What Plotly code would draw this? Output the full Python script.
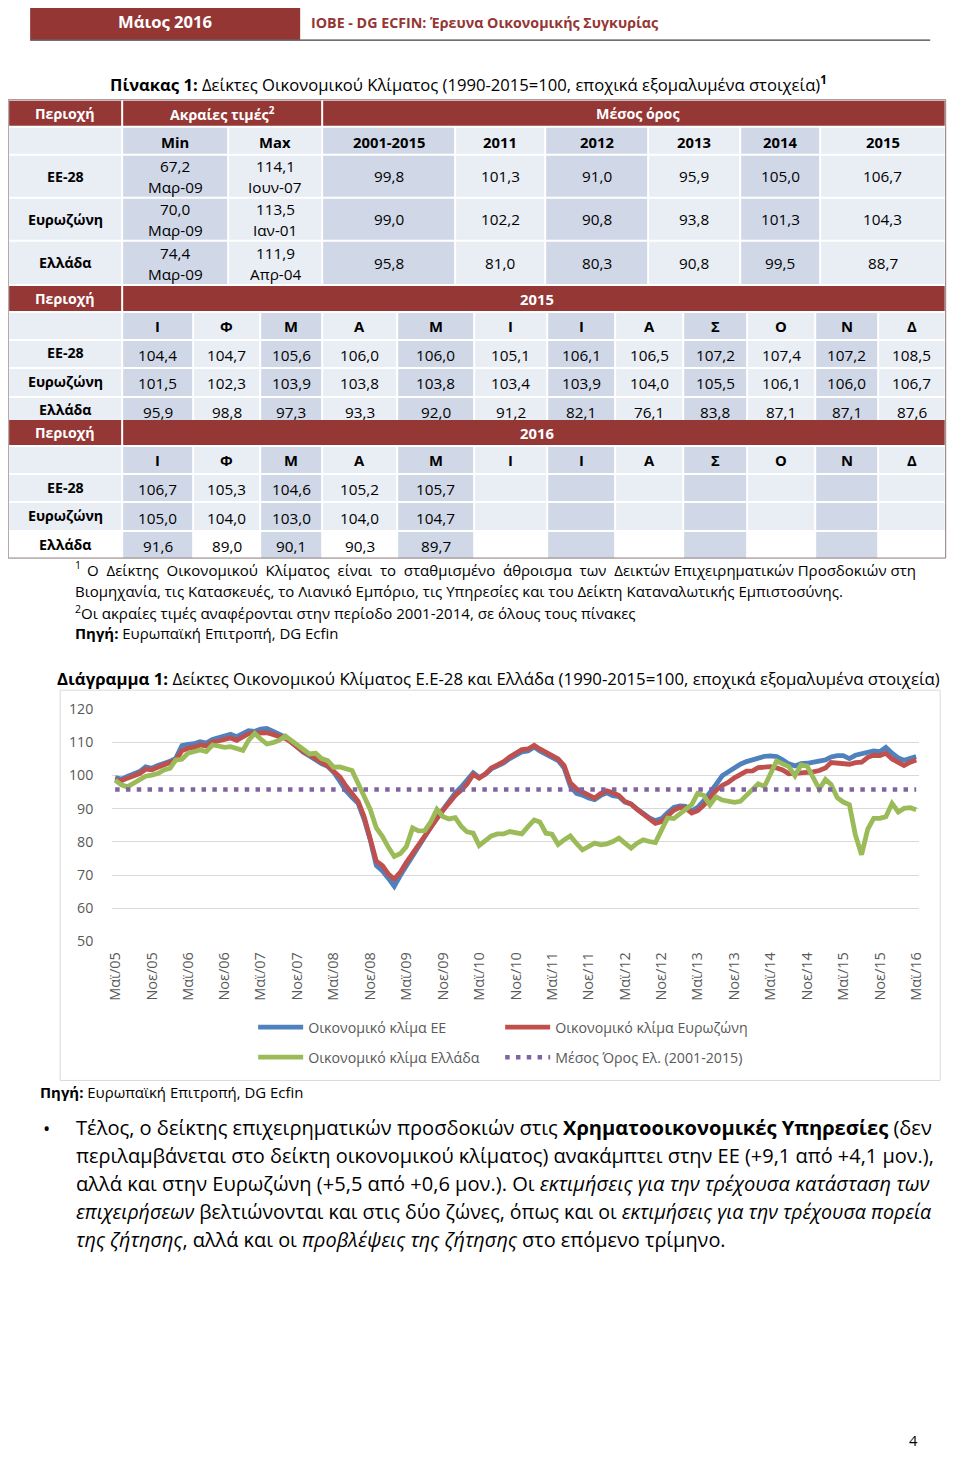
import plotly.graph_objects as go
import pandas as pd

# ---------------- data ----------------
regions = ["ΕΕ-28", "Ευρωζώνη", "Ελλάδα"]
ext_min = ["67,2", "70,0", "74,4"]
ext_min_date = ["Μαρ-09", "Μαρ-09", "Μαρ-09"]
ext_max = ["114,1", "113,5", "111,9"]
ext_max_date = ["Ιουν-07", "Ιαν-01", "Απρ-04"]
avg_periods = ["2001-2015", "2011", "2012", "2013", "2014", "2015"]
avg_eu = [99.8, 101.3, 91.0, 95.9, 105.0, 106.7]
avg_ez = [99.0, 102.2, 90.8, 93.8, 101.3, 104.3]
avg_gr = [95.8, 81.0, 80.3, 90.8, 99.5, 88.7]
month_letters = ["Ι", "Φ", "Μ", "Α", "Μ", "Ι", "Ι", "Α", "Σ", "Ο", "Ν", "Δ"]

eu_2015 = [104.4, 104.7, 105.6, 106.0, 106.0, 105.1, 106.1, 106.5, 107.2, 107.4, 107.2, 108.5]
ez_2015 = [101.5, 102.3, 103.9, 103.8, 103.8, 103.4, 103.9, 104.0, 105.5, 106.1, 106.0, 106.7]
gr_2015 = [95.9, 98.8, 97.3, 93.3, 92.0, 91.2, 82.1, 76.1, 83.8, 87.1, 87.1, 87.6]
eu_2016 = [106.7, 105.3, 104.6, 105.2, 105.7]
ez_2016 = [105.0, 104.0, 103.0, 104.0, 104.7]
gr_2016 = [91.6, 89.0, 90.1, 90.3, 89.7]

# monthly values May 2005 - Dec 2014
eu_2005_2014 = [99.4, 98.9, 99.7, 100.3, 101.2, 102.6, 102.2, 103.0, 103.6, 104.3,
                105.2, 109.0, 109.4, 109.6, 110.2, 109.8, 110.9, 111.3, 111.8, 112.4,
                111.7, 112.5, 113.5, 113.3, 114.0, 114.2, 113.3, 112.7, 111.6, 110.1,
                108.3, 107.0, 105.9, 104.6, 103.6, 102.8, 101.0, 98.3, 95.5, 93.4,
                91.6, 86.8, 80.5, 72.9, 71.2, 68.9, 66.6, 69.9, 72.9, 75.7,
                78.4, 82.0, 84.5, 87.2, 89.9, 92.6, 94.7, 96.6, 98.6, 100.8,
                99.4, 100.4, 102.0, 102.9, 103.8, 105.1, 106.2, 107.1, 107.4, 108.6,
                107.4, 106.4, 105.6, 104.5, 102.3, 96.8, 94.6, 94.1, 93.2, 92.7,
                94.0, 94.8, 93.9, 93.6, 92.0, 91.4, 89.9, 88.5, 87.2, 86.4,
                87.0, 88.8, 90.4, 90.8, 90.7, 89.3, 90.4, 92.4, 94.6, 97.3,
                99.9, 101.1, 102.4, 103.4, 104.2, 104.7, 105.2, 105.8, 105.9, 105.7,
                104.7, 103.5, 102.9, 103.6, 103.7, 104.1]
ez_2005_2014 = [98.8, 98.4, 99.2, 99.8, 100.6, 101.9, 101.7, 102.5, 103.2, 103.8,
                104.6, 107.5, 108.2, 108.5, 109.2, 108.9, 110.1, 110.4, 111.0, 111.3,
                110.6, 111.5, 112.6, 112.8, 113.0, 112.9, 112.4, 111.9, 111.2, 110.0,
                108.4, 107.2, 106.2, 105.0, 103.9, 102.9, 101.3, 99.6, 96.9, 94.3,
                92.2, 87.6, 81.4, 74.2, 72.8, 70.2, 68.8, 70.9, 73.8, 76.5,
                79.0, 82.3, 84.6, 87.0, 89.5, 92.0, 94.0, 95.6, 97.4, 100.3,
                99.2, 100.5, 102.3, 103.2, 104.2, 105.6, 106.8, 107.8, 108.0, 109.1,
                108.0, 107.0, 106.2, 105.0, 103.0, 97.8, 96.0, 95.2, 94.2, 93.2,
                94.6, 95.4, 94.8, 94.0, 92.2, 91.4, 89.8, 88.3, 86.8, 85.6,
                86.1, 88.0, 89.5, 90.4, 90.2, 88.7, 89.4, 91.1, 93.3, 95.5,
                97.0, 97.9, 99.3, 100.2, 101.3, 101.4, 102.4, 102.5, 102.7, 102.3,
                101.7, 100.5, 100.6, 100.6, 100.7, 101.1]
gr_2005_2014 = [98.6, 97.2, 96.6, 97.8, 99.0, 99.8, 100.1, 100.6, 101.7, 102.2,
                104.7, 104.9, 106.7, 107.2, 107.7, 107.2, 109.2, 108.9, 108.5, 108.7,
                108.3, 107.6, 110.6, 112.7, 111.0, 109.5, 109.9, 110.6, 111.9, 110.6,
                109.2, 107.7, 106.5, 106.7, 105.1, 104.5, 102.5, 102.6, 102.2, 101.5,
                97.6, 93.8, 89.7, 84.2, 81.6, 78.2, 75.6, 76.5, 78.6, 84.2,
                83.3, 83.4, 86.1, 89.8, 87.6, 86.9, 87.3, 84.6, 83.0, 82.6,
                78.9, 80.4, 81.8, 82.4, 82.4, 83.1, 82.7, 82.4, 84.6, 86.6,
                86.0, 82.6, 82.3, 79.2, 80.6, 81.8, 79.5, 77.6, 78.6, 79.6,
                79.1, 79.4, 80.1, 81.1, 79.6, 78.1, 79.6, 80.6, 80.1, 79.8,
                83.6, 87.2, 87.0, 88.3, 89.6, 91.2, 94.6, 94.0, 91.1, 93.6,
                92.6, 92.1, 91.9, 92.2, 94.1, 96.2, 97.5, 96.7, 100.6, 104.4,
                103.5, 102.7, 99.9, 103.2, 102.8, 99.2]

gr_mean_2001_2015 = 95.8
tick_labels = ["Μαϊ/05", "Νοε/05", "Μαϊ/06", "Νοε/06", "Μαϊ/07", "Νοε/07", "Μαϊ/08", "Νοε/08",
               "Μαϊ/09", "Νοε/09", "Μαϊ/10", "Νοε/10", "Μαϊ/11", "Νοε/11", "Μαϊ/12", "Νοε/12",
               "Μαϊ/13", "Νοε/13", "Μαϊ/14", "Νοε/14", "Μαϊ/15", "Νοε/15", "Μαϊ/16"]
series_names = ["Οικονομικό κλίμα ΕΕ", "Οικονομικό κλίμα Ευρωζώνη",
                "Οικονομικό κλίμα Ελλάδα", "Μέσος Όρος Ελ. (2001-2015)"]

eu = eu_2005_2014 + eu_2015 + eu_2016
ez = ez_2005_2014 + ez_2015 + ez_2016
gr = gr_2005_2014 + gr_2015 + gr_2016
dates = pd.date_range("2005-05-01", periods=len(eu), freq="MS")

# ---------------- page geometry helpers ----------------
# the figure is shown slightly reduced and offset on the final page
FW, FH = 944, 1449
S = 0.9862
AX, AY = 14.85, 18.3


def X(x):
    return ((x - AX) / S) / FW


def Y(y):
    return 1 - ((y - AY) / S) / FH


def fs(v):
    return round(v / S, 2)


FONT = "Open Sans, Noto Sans, DejaVu Sans, sans-serif"
RED = "#953735"
DARK = "#D0D8E8"
LIGHT = "#E9EDF4"
GRAY = "#595959"

shapes = []
annots = []


def rect(x0, y0, x1, y1, fill, line_color="rgba(0,0,0,0)", lw=0, layer="below"):
    shapes.append(dict(type="rect", xref="paper", yref="paper",
                       x0=X(x0), x1=X(x1), y0=Y(y1), y1=Y(y0),
                       fillcolor=fill, line=dict(color=line_color, width=lw), layer=layer))


def line(x0, y0, x1, y1, color, w):
    shapes.append(dict(type="line", xref="paper", yref="paper",
                       x0=X(x0), x1=X(x1), y0=Y(y0), y1=Y(y1),
                       line=dict(color=color, width=w), layer="below"))


def text(x, y, s, size=14, color="#000000", anchor="center", bold=False):
    if bold:
        s = "<b>" + s + "</b>"
    annots.append(dict(xref="paper", yref="paper", x=X(x), y=Y(y), text=s,
                       showarrow=False, xanchor=anchor, yanchor="middle",
                       borderpad=0, font=dict(size=fs(size), color=color, family=FONT)))


def fmt(v):
    return f"{v:.1f}".replace(".", ",")


# ---------------- header ----------------
rect(30, 3, 300, 40, "#943634")
line(30, 40.5, 930, 40.5, "#404040", 1.2)
text(165, 22, "Μάιος 2016", 16.4, "#FFFFFF", bold=True)
text(310, 23, "IOBE - DG ECFIN: Έρευνα Οικονομικής Συγκυρίας", 14.05, "#943634", "left", bold=True)

# ---------------- table ----------------
text(109, 84, "<b>Πίνακας 1:</b> Δείκτες Οικονομικού Κλίματος (1990-2015=100, εποχικά εξομαλυμένα στοιχεία)<sup><b>1</b></sup>",
     16.4, "#000000", "left")

TL, TR = 8, 945.5
c1 = [TL, 122, 228, 322, 455, 545, 648, 740, 820, TR]
c2 = [TL, 122, 193, 260, 322, 397, 474, 547, 615, 683, 747, 815, 878, TR]
G = 1  # half white gap
LABX = 65
LBL = 14.0   # bold labels
NUM = 15.1   # numbers


def cell(x0, y0, x1, y1, fill):
    rect(x0 + G, y0 + G, x1 - G, y1 - G, fill)


def band(j, last=False):
    if j == 0:
        return "#FFFFFF" if last else LIGHT
    if j % 2 == 1:
        return DARK
    return "#FFFFFF" if last else LIGHT


# block 1 red header
cell(TL, 100, 122, 127, RED)
cell(122, 100, 322, 127, RED)
cell(322, 100, TR, 127, RED)
text(LABX, 114, "Περιοχή", LBL, "#FFFFFF", bold=True)
text(222, 114, "<b>Ακραίες τιμές<sup>2</sup></b>", LBL, "#FFFFFF")
text(637, 114, "Μέσος όρος", LBL, "#FFFFFF", bold=True)

# block 1 sub header
hdr1 = ["", "Min", "Max"] + avg_periods
for j in range(9):
    cell(c1[j], 127, c1[j + 1], 155, band(j))
    if hdr1[j]:
        text((c1[j] + c1[j + 1]) / 2, 142, hdr1[j], LBL + 0.6, bold=True)

rows1 = [(155, 198), (198, 241), (241, 285)]
avgs = [avg_eu, avg_ez, avg_gr]
for i, (y0, y1) in enumerate(rows1):
    for j in range(9):
        cell(c1[j], y0, c1[j + 1], y1, band(j))
    yc = (y0 + y1) / 2
    text(LABX, yc, regions[i], LBL, bold=True)
    text(175, yc - 10, ext_min[i], NUM)
    text(175, yc + 11, ext_min_date[i], NUM)
    text(275, yc - 10, ext_max[i], NUM)
    text(275, yc + 11, ext_max_date[i], NUM)
    for k in range(6):
        text((c1[k + 3] + c1[k + 4]) / 2, yc, fmt(avgs[i][k]), NUM)

# blocks 2 and 3
monthly = [([eu_2015, ez_2015, gr_2015], "2015", 285),
           ([eu_2016, ez_2016, gr_2016], "2016", 419)]
for b, (vals, year, top) in enumerate(monthly):
    cell(TL, top, 122, top + 27, RED)
    cell(122, top, TR, top + 27, RED)
    text(LABX, top + 14, "Περιοχή", LBL, "#FFFFFF", bold=True)
    text(537, top + 14, year, LBL + 0.6, "#FFFFFF", bold=True)
    ly0, ly1 = top + 27, top + 55
    for j in range(13):
        cell(c2[j], ly0, c2[j + 1], ly1, band(j))
        if j > 0:
            text((c2[j] + c2[j + 1]) / 2, (ly0 + ly1) / 2, month_letters[j - 1], LBL + 0.6, bold=True)
    hs = [(ly1, ly1 + 28), (ly1 + 28, ly1 + 57), (ly1 + 57, ly1 + 85)]
    for i, (y0, y1) in enumerate(hs):
        last = (b == 1 and i == 2)
        for j in range(13):
            cell(c2[j], y0, c2[j + 1], y1, band(j, last))
        yc = (y0 + y1) / 2
        text(LABX, yc - 1, regions[i], LBL, bold=True)
        for k, v in enumerate(vals[i]):
            text((c2[k + 1] + c2[k + 2]) / 2, yc + 1, fmt(v), NUM)

rect(TL, 100, TR, 558, "rgba(0,0,0,0)", "#8C7B7B", 1)

# footnotes
text(74, 565, "<sup>1</sup>", 14.8, anchor="left")
text(86, 570, "Ο  Δείκτης  Οικονομικού  Κλίματος  είναι  το  σταθμισμένο  άθροισμα  των  Δεικτών Επιχειρηματικών Προσδοκιών στη", 14.8, anchor="left")
text(74, 591, "Βιομηχανία, τις Κατασκευές, το Λιανικό Εμπόριο, τις Υπηρεσίες και του Δείκτη Καταναλωτικής Εμπιστοσύνης.", 14.8, anchor="left")
text(74, 612, "<sup>2</sup>Οι ακραίες τιμές αναφέρονται στην περίοδο 2001-2014, σε όλους τους πίνακες", 14.85, anchor="left")
text(74, 633, "<b>Πηγή:</b> Ευρωπαϊκή Επιτροπή, DG Ecfin", 14.7, anchor="left")

# chart title and frame
text(56, 678, "<b>Διάγραμμα 1:</b> Δείκτες Οικονομικού Κλίματος Ε.Ε-28 και Ελλάδα (1990-2015=100, εποχικά εξομαλυμένα στοιχεία)",
     16.55, anchor="left")
rect(60, 690, 940, 1080, "#FFFFFF", "#D9D9D9", 1)

text(39, 1092, "<b>Πηγή:</b> Ευρωπαϊκή Επιτροπή, DG Ecfin", 14.7, anchor="left")

# paragraph
text(46, 1128, "•", 19, anchor="center")
para = [
    ("Τέλος, ο δείκτης επιχειρηματικών προσδοκιών στις <b>Χρηματοοικονομικές Υπηρεσίες</b> (δεν", 19.8),
    ("περιλαμβάνεται στο δείκτη οικονομικού κλίματος) ανακάμπτει στην ΕΕ (+9,1 από +4,1 μον.),", 19.7),
    ("αλλά και στην Ευρωζώνη (+5,5 από +0,6 μον.). Οι <i>εκτιμήσεις για την τρέχουσα κατάσταση των</i>", 19.8),
    ("<i>επιχειρήσεων</i> βελτιώνονται και στις δύο ζώνες, όπως και οι <i>εκτιμήσεις για την τρέχουσα πορεία</i>", 19.35),
    ("<i>της ζήτησης</i>, αλλά και οι <i>προβλέψεις της ζήτησης</i> στο επόμενο τρίμηνο.", 19.65),
]
for i, (s, sz) in enumerate(para):
    text(75, 1127 + 28 * i, s, sz, anchor="left")

text(913, 1439, "4", 14.5)

# ---------------- chart ----------------
fig = go.Figure()
fig.add_trace(go.Scatter(x=dates, y=eu, mode="lines", name=series_names[0],
                         line=dict(color="#4F81BD", width=4.8), legend="legend"))
fig.add_trace(go.Scatter(x=dates, y=ez, mode="lines", name=series_names[1],
                         line=dict(color="#C0504D", width=4.8), legend="legend"))
fig.add_trace(go.Scatter(x=dates, y=gr, mode="lines", name=series_names[2],
                         line=dict(color="#9BBB59", width=4.8), legend="legend2"))
fig.add_trace(go.Scatter(x=[dates[0], dates[-1]], y=[gr_mean_2001_2015, gr_mean_2001_2015],
                         mode="lines", name=series_names[3],
                         line=dict(color="#8064A2", width=4.5, dash="4.5px,6.3px"), legend="legend2"))

legend_common = dict(orientation="h", xanchor="left", yanchor="middle",
                     entrywidth=187, itemwidth=45,
                     font=dict(size=fs(14), color=GRAY, family=FONT),
                     bgcolor="rgba(0,0,0,0)")

fig.update_layout(
    width=FW, height=FH,
    margin=dict(l=0, r=0, t=0, b=0),
    paper_bgcolor="#FFFFFF", plot_bgcolor="rgba(0,0,0,0)",
    shapes=shapes, annotations=annots,
    font=dict(family=FONT, color=GRAY),
    xaxis=dict(domain=[X(112), X(919)], type="date",
               range=["2005-04-16", "2016-05-16"],
               tickvals=list(dates[::6]), ticktext=tick_labels, tickangle=-90,
               ticks="outside", ticklen=4, tickcolor="rgba(0,0,0,0)",
               tickfont=dict(size=fs(14.3), color=GRAY, family=FONT),
               showgrid=False, showline=False, zeroline=False),
    yaxis=dict(domain=[Y(941), Y(709)], range=[50, 120],
               tickvals=[50, 60, 70, 80, 90, 100, 110, 120],
               ticks="outside", ticklen=15, tickcolor="rgba(0,0,0,0)",
               tickfont=dict(size=fs(14), color=GRAY, family=FONT),
               gridcolor="#D9D9D9", gridwidth=1, zeroline=False, showline=False),
    legend=dict(legend_common, x=X(253), y=Y(1027)),
    legend2=dict(legend_common, x=X(253), y=Y(1057)),
    showlegend=True,
)

fig.write_html("out.html")
